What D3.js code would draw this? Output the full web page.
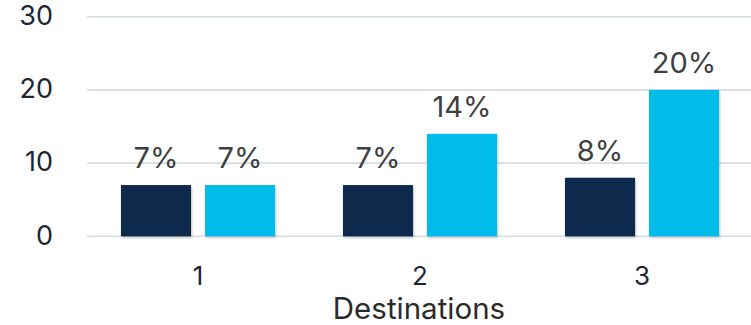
<!DOCTYPE html>
<html>
<head>
<meta charset="utf-8">
<script src="https://cdn.jsdelivr.net/npm/d3@7"></script>
<style>
  html, body { margin: 0; padding: 0; background: #ffffff; }
  svg { display: block; font-family: Inter, "Noto Sans", sans-serif; }
</style>
</head>
<body>
<svg id="chart" width="751" height="325"></svg>
<script>
// Destination groups along the x axis
const categories = ["1", "2", "3"];
// Two series per destination, in percent
const seriesNames = ["A", "B"];
const seriesA = [7, 7, 8];
const seriesB = [7, 14, 20];
const yTicks = [0, 10, 20, 30];
const xTitle = "Destinations";

const colors = { A: "#0F2A4E", B: "#00BCEB" };

const svg = d3.select("#chart");
const W = 751, H = 325;
const margin = { left: 87, right: -2, top: 17, bottom: 89 };

const rows = categories.map((c, i) => ({ cat: c, A: seriesA[i], B: seriesB[i] }));

const x0 = d3.scaleBand()
  .domain(categories)
  .range([margin.left, W - margin.right])
  .paddingInner(0.306)
  .paddingOuter(0.153);

const x1 = d3.scaleBand()
  .domain(seriesNames)
  .range([0, x0.bandwidth()])
  .paddingInner(1 / 6);

const y = d3.scaleLinear()
  .domain([0, 30])
  .range([H - margin.bottom + 0.3, margin.top - 0.3]);

// Soft shadow under the bars
const defs = svg.append("defs");
const f = defs.append("filter").attr("id", "shadow")
  .attr("x", "-10%").attr("y", "-10%").attr("width", "130%").attr("height", "130%");
f.append("feDropShadow").attr("dx", 1).attr("dy", 1.5)
  .attr("stdDeviation", 1).attr("flood-color", "#000").attr("flood-opacity", 0.25);

// Horizontal gridlines
svg.append("g").selectAll("line")
  .data(yTicks).join("line")
  .attr("x1", margin.left).attr("x2", W)
  .attr("y1", d => y(d)).attr("y2", d => y(d))
  .attr("stroke", "#D3DCE8").attr("stroke-width", 1.6);

// Y axis labels
svg.append("g").selectAll("text")
  .data(yTicks).join("text")
  .attr("x", 53).attr("y", d => y(d) + 1)
  .attr("text-anchor", "end").attr("dominant-baseline", "middle")
  .attr("font-size", 27).attr("fill", "#1E2630")
  .text(d => d);

// Bars
const groups = svg.append("g").selectAll("g")
  .data(rows).join("g")
  .attr("transform", d => `translate(${x0(d.cat)},0)`);

groups.selectAll("rect")
  .data(d => seriesNames.map(s => ({ s, v: d[s] })))
  .join("rect")
  .attr("x", d => x1(d.s))
  .attr("width", x1.bandwidth())
  .attr("y", d => y(d.v))
  .attr("height", d => y(0) - y(d.v))
  .attr("fill", d => colors[d.s])
  .attr("filter", "url(#shadow)");

// Value labels above bars
groups.selectAll("text")
  .data(d => seriesNames.map(s => ({ s, v: d[s] })))
  .join("text")
  .attr("x", d => x1(d.s) + x1.bandwidth() / 2)
  .attr("y", d => y(d.v) - 17)
  .attr("text-anchor", "middle")
  .attr("font-size", 29).attr("fill", "#3F3F3F")
  .text(d => d.v + "%");

// X axis category labels
svg.append("g").selectAll("text")
  .data(categories).join("text")
  .attr("x", d => x0(d) + x0.bandwidth() / 2)
  .attr("y", 285)
  .attr("text-anchor", "middle")
  .attr("font-size", 26).attr("fill", "#1E2630")
  .text(d => d);

// X axis title
svg.append("text")
  .attr("x", 419).attr("y", 319)
  .attr("text-anchor", "middle")
  .attr("font-size", 29.5).attr("fill", "#2A2A2A")
  .text(xTitle);
</script>
</body>
</html>
